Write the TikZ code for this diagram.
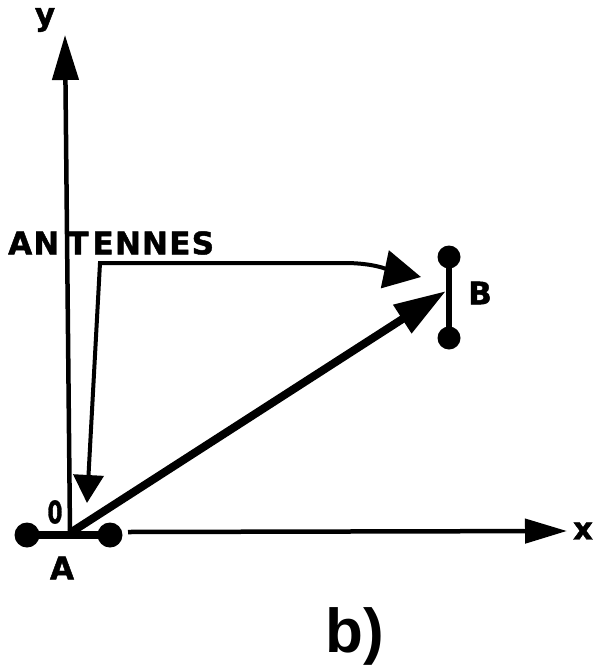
\documentclass[tikz,border=0pt]{standalone}
\usepackage{fontspec}
\setmainfont{Liberation Sans}
\newfontfamily\lblfont[FakeBold=1.5]{DejaVu Sans}
\usetikzlibrary{arrows.meta}
\begin{document}
\begin{tikzpicture}[x=1pt,y=-1pt,
  lbl/.style={font=\lblfont\bfseries\fontsize{31}{31}\selectfont, inner sep=0pt},
  dot/.style={circle, fill=black, inner sep=0pt, minimum size=#1},
  axis/.style={line width=4.5pt},
  conn/.style={line width=4pt}]
\useasboundingbox (0,0) rectangle (592,672);
% coordinates
\coordinate (O) at (70,533);
\coordinate (ytip) at (65,35);
\coordinate (xstart) at (128,532);
\coordinate (xtip) at (567,531);
\coordinate (Btip) at (446,291);
\coordinate (downtip) at (87,503);
\coordinate (corner) at (100,263);
\coordinate (bend) at (345,263);
\coordinate (anttip) at (421,277);
% antenna A
\node[dot=25pt] (A1) at (27,535) {};
\node[dot=25pt] (A2) at (110,535) {};
\draw[line width=8pt] (A1.center) -- (A2.center);
% antenna B
\node[dot=23pt] (B1) at (449,257) {};
\node[dot=23pt] (B2) at (449,338) {};
\draw[line width=5.5pt] (B1.center) -- (B2.center);
% axes
\draw[axis, -{Triangle[length=45pt,width=26pt]}] (O) -- (ytip);
\draw[axis, -{Triangle[length=42pt,width=24pt]}] (xstart) -- (xtip);
% main arrow
\draw[line width=8pt, -{Triangle[length=52pt,width=32pt]}] (O) -- (Btip);
% antennes connector
\draw[conn, {Triangle[length=28pt,width=30pt]}-{Triangle[length=37pt,width=38pt]}]
  (downtip) -- (corner) -- (bend) to[out=0,in=168] (anttip);
% labels
\node[lbl] (ylab) at (45,20) {y};
\node[lbl] (xlab) at (583,531) {x};
\node[lbl, xscale=0.7] (zero) at (55,512) {0};
\node[lbl] (Alab) at (62,568) {A};
\node[lbl] (Blab) at (480,293) {B};
\node[lbl, anchor=west] (ant) at (8,243) {\addfontfeature{LetterSpace=4}AN\hspace{8pt}T\hspace{4pt}ENNES};
\node[font=\bfseries\fontsize{62}{62}\selectfont, inner sep=0pt] (blab) at (355,636) {b)};
\end{tikzpicture}
\end{document}
